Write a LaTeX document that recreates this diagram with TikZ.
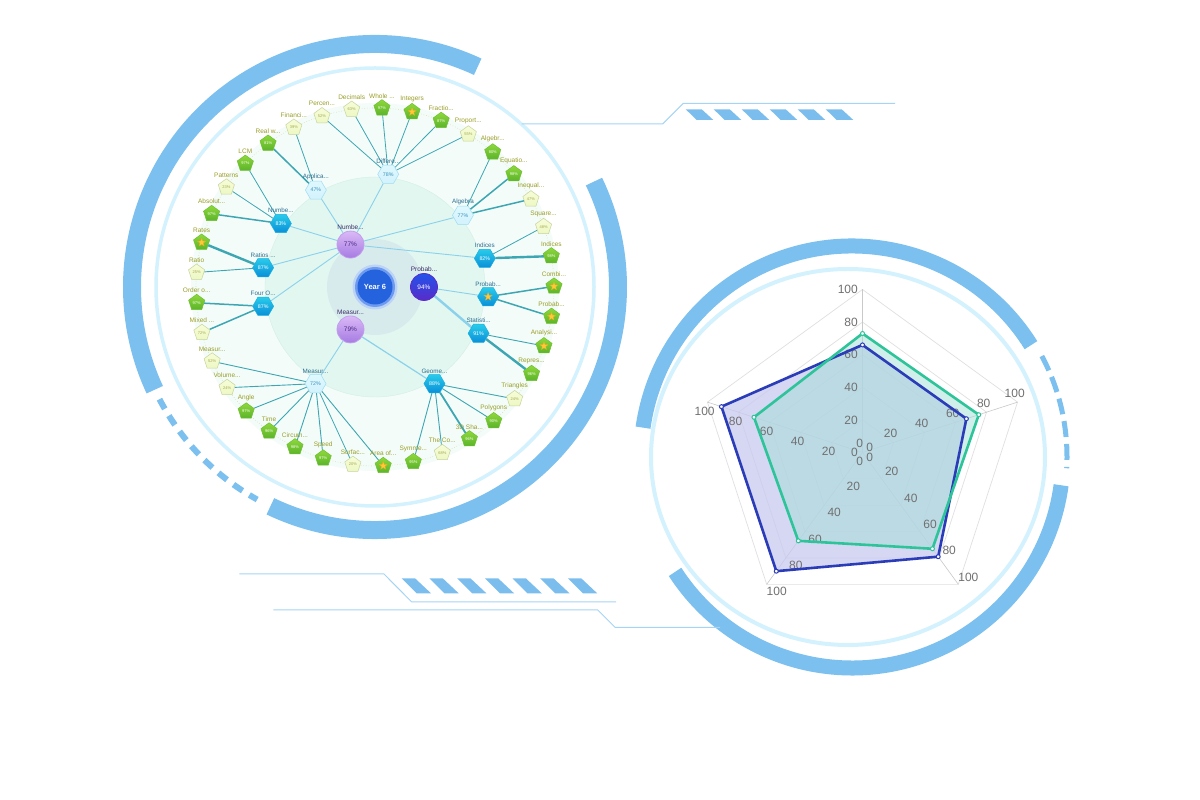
\documentclass[tikz,border=0pt]{standalone}
\usepackage{fontspec}
\setmainfont{Liberation Sans}
\usetikzlibrary{shapes.geometric,calc}

\newcommand{\ellip}{...}

\definecolor{arcblue}{HTML}{7BC0EF}
\definecolor{ringblue}{HTML}{D4F2FD}
\definecolor{decoline}{HTML}{A6D4F4}
\definecolor{stripe}{HTML}{7BBEEE}
\definecolor{discout}{HTML}{F3FCF9}
\definecolor{discmid}{HTML}{E2F7F0}
\definecolor{discrim}{HTML}{D2EFE6}
\definecolor{discin}{HTML}{D8EBEC}
\definecolor{midedge}{HTML}{8AD2EC}
\definecolor{leafedge}{HTML}{3DA6B3}
\definecolor{toph}{HTML}{8FD83C}
\definecolor{both}{HTML}{5BB42A}
\definecolor{drwh}{HTML}{6DBF2F}
\definecolor{txth}{HTML}{FFFFFF}
\colorlet{tops}{toph}
\colorlet{bots}{both}
\colorlet{drws}{drwh}
\colorlet{txts}{txth}
\definecolor{topl}{HTML}{F7FCD8}
\definecolor{botl}{HTML}{EDF8C4}
\definecolor{drwl}{HTML}{C7D49C}
\definecolor{txtl}{HTML}{A3A84E}
\definecolor{leaftext}{HTML}{9A9E28}
\definecolor{hxth}{HTML}{28CBE9}
\definecolor{hxbh}{HTML}{0A8FD9}
\definecolor{hxdh}{HTML}{19AEE2}
\definecolor{hxxh}{HTML}{FFFFFF}
\definecolor{hxtl}{HTML}{E0F8FE}
\definecolor{hxbl}{HTML}{D2F2FC}
\definecolor{hxdl}{HTML}{9EDCF2}
\definecolor{hxxl}{HTML}{3A93BD}
\definecolor{hextext}{HTML}{2B6E92}
\definecolor{purtop}{HTML}{DAB9F6}
\definecolor{purbot}{HTML}{A67BE2}
\definecolor{purdraw}{HTML}{C29EEE}
\definecolor{purtext}{HTML}{4B2B85}
\definecolor{toptext}{HTML}{3A2A68}
\definecolor{prbtop}{HTML}{2253EA}
\definecolor{prbbot}{HTML}{5A2BC9}
\definecolor{yearblue}{HTML}{2462DE}
\definecolor{yearring}{HTML}{6E9BF0}
\definecolor{yearglow}{HTML}{BCD3F8}
\definecolor{starfill}{HTML}{FFC93A}
\definecolor{stardraw}{HTML}{F2A81D}
\definecolor{radgrid}{HTML}{E0E0E0}
\definecolor{radaxis}{HTML}{C9C9C9}
\definecolor{radtick}{HTML}{707070}
\definecolor{serblue}{HTML}{2B3CB8}
\definecolor{serbluefill}{HTML}{C9CAF0}
\definecolor{sergreen}{HTML}{2DC49A}
\definecolor{sergreenfill}{HTML}{A3DED6}

\pgfdeclarelayer{back}
\pgfdeclarelayer{wires}
\pgfsetlayers{back,wires,main}

\begin{document}
\begin{tikzpicture}[x=1pt,y=1pt,
    leaf/.style={regular polygon,regular polygon sides=5,minimum size=17pt,inner sep=0pt,
      top color=top#1,bottom color=bot#1,draw=drw#1,text=txt#1,line width=0.5pt,
      font=\fontsize{4}{4}\selectfont},
    leaflab/.style={font=\fontsize{6.5}{7}\selectfont,text=leaftext,inner sep=1pt},
    hex/.style={regular polygon,regular polygon sides=6,minimum size=21pt,inner sep=0pt,
      top color=hxt#1,bottom color=hxb#1,draw=hxd#1,text=hxx#1,line width=0.5pt,
      font=\fontsize{5.3}{6}\selectfont},
    hexlab/.style={font=\fontsize{6.3}{7}\selectfont,text=hextext,inner sep=1pt},
    topicp/.style={circle,minimum size=27pt,inner sep=0pt,top color=purtop,bottom color=purbot,
      draw=purdraw,line width=0.8pt,text=purtext,font=\fontsize{6.5}{7}\selectfont},
    topicb/.style={circle,minimum size=27pt,inner sep=0pt,top color=prbtop,bottom color=prbbot,
      draw=prbbot,line width=0.8pt,text=white,font=\fontsize{6.5}{7}\selectfont},
    toplab/.style={font=\fontsize{6.5}{7}\selectfont,text=toptext,inner sep=1pt},
    starmark/.style={star,star points=5,star point ratio=2.4,minimum size=8.5pt,inner sep=0pt,
      fill=starfill,draw=stardraw,line width=0.3pt},
    ticklab/.style={font=\fontsize{12}{12}\selectfont,text=radtick,inner sep=0.5pt},
    serdot/.style={circle,fill=white,draw=#1,line width=1pt,minimum size=4pt,inner sep=0pt}]

    \useasboundingbox (0,0) rectangle (1200,800);

    \coordinate (T) at (375,513);
    \coordinate (RA) at (852,343);
    \coordinate (RC) at (862.5,347.5);

    \begin{pgfonlayer}{back}
        \fill[white] (0,0) rectangle (1200,800);
        \draw[arcblue,line width=18] ($(T)+(65:243)$) arc[start angle=65,end angle=205,radius=243];
        \draw[arcblue,line width=18] ($(T)+(-115.5:243)$) arc[start angle=-115.5,end angle=25.7,radius=243];
        \draw[arcblue,line width=6,dash pattern=on 11pt off 8pt] ($(T)+(207.5:243)$) arc[start angle=207.5,end angle=241,radius=243];
        \draw[ringblue,line width=3.5] (T) circle[radius=219];
        \fill[discout] (T) circle[radius=184];
        \draw[leaftext!35,dotted,line width=0.6] (T) circle[radius=179];
        \filldraw[fill=discmid,draw=discrim] (T) circle[radius=110];
        \fill[discin] (T) circle[radius=48];
        \fill[yearglow] (T) circle[radius=22.5];
        \fill[yearring] (T) circle[radius=20];

        \draw[arcblue,line width=15] ($(RA)+(32:211)$) arc[start angle=32,end angle=172,radius=211];
        \draw[arcblue,line width=15] ($(RA)+(-147:211)$) arc[start angle=-147,end angle=-7.7,radius=211];
        \draw[arcblue,line width=5,dash pattern=on 16pt off 7pt] ($(RA)+(28:215)$) arc[start angle=28,end angle=-3,radius=215];
        \draw[ringblue,line width=4] (848,343) ellipse[x radius=197,y radius=188];

        \draw[decoline,line width=1] (521.7,676) -- (662.7,676) -- (683.3,696.7) -- (895,696.7);
        \draw[decoline,line width=1] (239.3,226) -- (384,226) -- (411.7,198) -- (616,198);
        \draw[decoline,line width=1] (273.3,190) -- (597.7,190) -- (615,172.7) -- (720,172.7);
        \foreach \k in {0,...,5}
            \fill[stripe] ($(685.7,690.7)+(\k*28,0)$) -- ++(16,0) -- ++(11.6,-10.7) -- ++(-16.6,0) -- cycle;
        \foreach \k in {0,...,6}
            \fill[stripe] ($(401.7,221.7)+(\k*27.7,0)$) -- ++(13.3,0) -- ++(16,-15) -- ++(-14.3,0) -- cycle;
    \end{pgfonlayer}

    \node[circle,fill=yearblue,minimum size=35pt,inner sep=0pt,text=white,
        font=\bfseries\fontsize{7.5}{8}\selectfont] (year) at (T) {Year 6};

    \node[topicp,label={[toplab]above:Numbe\ellip}]  (t-num) at ($(T)+(120:49)$) {77\%};
    \node[topicb,label={[toplab]above:Probab\ellip}] (t-prb) at ($(T)+(0:49)$)   {94\%};
    \node[topicp,label={[toplab]above:Measur\ellip}] (t-mea) at ($(T)+(240:49)$) {79\%};

    \foreach \id/\ang/\nm/\val/\kind/\up/\w in {
        dif/83.3/Differe\ellip/78\%/l/num/0.9, app/121.4/Applica\ellip/47\%/l/num/0.9,
        num/146/Numbe\ellip/83\%/h/num/0.9, rat/170.2/Ratios \ellip/87\%/h/num/0.9,
        fou/189.8/Four O\ellip/87\%/h/num/0.9, mea/238.4/Measur\ellip/72\%/l/mea/0.9,
        geo/301.6/Geome\ellip/88\%/h/mea/1.2, sta/335.9/Statisti\ellip/91\%/h/prb/2.4,
        prb/355.1/Probab\ellip//h/prb/0.9, ind/14.6/Indices/82\%/h/num/0.9,
        alg/39.2/Algebra/77\%/l/num/0.9}
    {
        \node[hex=\kind,label={[hexlab]above:\nm}] (h-\id) at ($(T)+(\ang:113.5)$) {\val};
        \begin{pgfonlayer}{wires}
            \draw[midedge,line width=\w] (t-\up) -- (h-\id);
        \end{pgfonlayer}
    }
    \node[starmark] (st-prb) at (h-prb) {};

    \foreach \nm/\val/\kind/\up/\w [count=\i from 0] in {
        Decimals/63\%/l/dif/0.8, Whole \ellip/97\%/h/dif/0.8, Integers//s/dif/0.8,
        Fractio\ellip/87\%/h/dif/0.8, Proport\ellip/55\%/l/dif/0.8, Algebr\ellip/80\%/h/alg/0.8,
        Equatio\ellip/98\%/h/alg/1.5, Inequal\ellip/47\%/l/alg/1.5, Square\ellip/48\%/l/ind/0.8,
        Indices/98\%/h/ind/2.4, Combi\ellip//s/prb/1.5, Probab\ellip//s/prb/1.5,
        Analysi\ellip//s/sta/0.9, Repres\ellip/96\%/h/sta/2.4, Triangles/24\%/l/geo/0.9,
        Polygons/90\%/h/geo/0.9, 3D Sha\ellip/96\%/h/geo/1.8, The Co\ellip/68\%/l/geo/0.9,
        Symme\ellip/95\%/h/geo/0.9, Area of\ellip//s/mea/0.9, Surfac\ellip/20\%/l/mea/0.8,
        Speed/97\%/h/mea/0.9, Circum\ellip/98\%/h/mea/0.9, Time/96\%/h/mea/0.9,
        Angle/97\%/h/mea/0.9, Volume\ellip/24\%/l/mea/0.9, Measur\ellip/52\%/l/mea/0.9,
        Mixed \ellip/72\%/l/fou/1.5, Order o\ellip/97\%/h/fou/1.5, Ratio/25\%/l/rat/0.9,
        Rates//s/rat/2.4, Absolut\ellip/97\%/h/num/1.5, Patterns/23\%/l/num/0.8,
        LCM/97\%/h/num/0.8, Real w\ellip/81\%/h/app/1.5, Financi\ellip/39\%/l/app/0.8,
        Percen\ellip/52\%/l/dif/0.8}
    {
        \pgfmathsetmacro\ang{97.5-\i*360/37}
        \node[leaf=\kind,label={[leaflab]above:\nm}] (lf\i) at ($(T)+(\ang:179)$) {\val};
        \begin{pgfonlayer}{wires}
            \draw[leafedge,line width=\w] (h-\up) -- (lf\i);
        \end{pgfonlayer}
    }
    \foreach \i in {2,10,11,12,19,30}
        \node[starmark] (st\i) at (lf\i) {};

    \foreach \r in {1,...,5}
        \draw[radgrid,line width=0.7] ($(RC)+(90:{\r*32.6})$)
            \foreach \ax in {18,-54,-126,162}{ -- ($(RC)+(\ax:{\r*32.6})$) } -- cycle;
    \foreach \ax in {90,18,-54,-126,162}
        \draw[radaxis,line width=0.6] (RC) -- ($(RC)+(\ax:163)$);

    \foreach \ax/\b/\g [count=\k] in {90/66/73,18/67/75,-54/79/73,-126/90/67,162/91/70} {
        \coordinate (b\k) at ($(RC)+(\ax:{\b*1.63})$);
        \coordinate (g\k) at ($(RC)+(\ax:{\g*1.63})$);
    }
    \fill[serbluefill,fill opacity=0.75] (b1) -- (b2) -- (b3) -- (b4) -- (b5) -- cycle;
    \fill[sergreenfill,fill opacity=0.5] (g1) -- (g2) -- (g3) -- (g4) -- (g5) -- cycle;

    \foreach \ax/\an in {90/0,18/288,-54/216,-126/144,162/72}
        \foreach \tv in {0,20,...,100}
            \node[ticklab,anchor=\an] (tk\ax-\tv) at ($(RC)+(\ax:{\tv*1.63})+(\ax+90:4)$) {\tv};

    \draw[serblue,line width=2.6,line join=round] (b1) -- (b2) -- (b3) -- (b4) -- (b5) -- cycle;
    \draw[sergreen,line width=2.6,line join=round] (g1) -- (g2) -- (g3) -- (g4) -- (g5) -- cycle;
    \foreach \k in {1,...,5} {
        \node[serdot=serblue] (mb\k) at (b\k) {};
        \node[serdot=sergreen] (mg\k) at (g\k) {};
    }
\end{tikzpicture}
\end{document}
